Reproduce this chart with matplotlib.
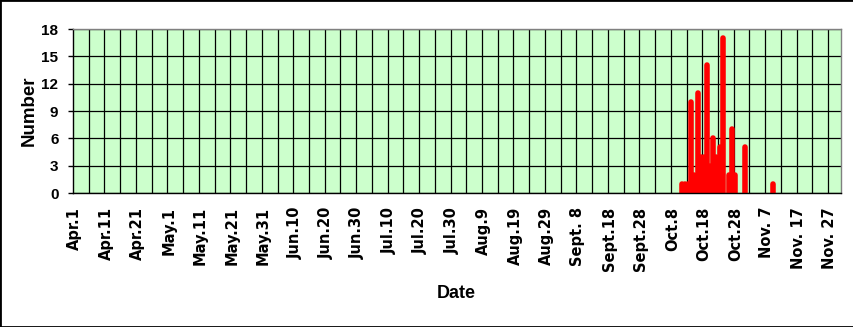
import numpy as np
import pandas as pd
import matplotlib
matplotlib.use("Agg")
import matplotlib.pyplot as plt
from matplotlib.patches import Rectangle

# daily counts (only the non-zero days, the rest of the season is 0)
season_start = "2001-04-01"
season_end = "2001-11-30"
event_dates = ["10-11", "10-12", "10-13", "10-14", "10-15", "10-16", "10-17",
               "10-18", "10-19", "10-20", "10-21", "10-22", "10-23", "10-24",
               "10-26", "10-27", "10-28", "10-31", "11-09"]
event_counts = [1, 1, 1, 10, 2, 11, 4, 4, 14, 3, 6, 4, 5, 17, 2, 7, 2, 5, 1]

tick_labels = ["Apr.1", "Apr.11", "Apr.21", "May.1", "May.11", "May.21", "May.31",
               "Jun.10", "Jun.20", "Jun.30", "Jul.10", "Jul.20", "Jul.30", "Aug.9",
               "Aug.19", "Aug.29", "Sept. 8", "Sept.18", "Sept.28", "Oct.8",
               "Oct.18", "Oct.28", "Nov. 7", "Nov. 17", "Nov. 27"]
y_ticks = [0, 3, 6, 9, 12, 15, 18]

# day index from Apr 1
days = pd.date_range(season_start, season_end, freq="D")
start = pd.Timestamp(season_start)
ev_idx = [(pd.Timestamp("2001-" + d) - start).days for d in event_dates]

W, H = 854, 327
fig = plt.figure(figsize=(W / 100, H / 100), dpi=100)
ax = fig.add_axes([73 / W, 1 - 193 / H, (840.7 - 73) / W, (193 - 29) / H])
ax.set_facecolor("#ccffcc")

# thick red strokes, one per day
ax.vlines(ev_idx, 0, event_counts, colors="#ff0000", linewidth=4.0,
          capstyle="round", zorder=2)

ax.set_xlim(-0.5, len(days) - 0.5)
ax.set_ylim(0, 18)

ax.set_xticks(np.arange(0, len(days), 10))
ax.set_xticklabels(tick_labels, rotation=90, fontsize=10.5,
                   fontweight="bold", family="DejaVu Sans", va="top", ha="center")
ax.set_xticks(np.arange(4.5, len(days) - 1, 5), minor=True)
ax.tick_params(axis="x", which="both", length=0, pad=10)

ax.set_yticks(y_ticks)
ax.set_yticklabels([str(v) for v in y_ticks], fontsize=11, fontweight="bold",
                   family="Liberation Sans")
ax.tick_params(axis="y", length=3.5, width=1, direction="out", pad=7)

ax.set_axisbelow(True)
ax.grid(which="minor", axis="x", color="black", linewidth=0.9)
ax.grid(which="major", axis="y", color="black", linewidth=0.9)

for side in ["top", "right"]:
    ax.spines[side].set_color("#808080")
    ax.spines[side].set_linewidth(1)
for side in ["left", "bottom"]:
    ax.spines[side].set_color("black")
    ax.spines[side].set_linewidth(1)

fig.text(29 / W, 1 - 111 / H, "Number", rotation=90, fontsize=13.5,
         fontweight="bold", family="Liberation Sans", ha="center", va="center")
fig.text(456 / W, 1 - 293.5 / H, "Date", fontsize=13, fontweight="bold",
         family="Liberation Sans", ha="center", va="center")

# outer frame
fig.patches.append(Rectangle((0, 0), 1, 1, transform=fig.transFigure,
                             fill=False, edgecolor="black", linewidth=2))

fig.savefig("out.png", dpi=100)
